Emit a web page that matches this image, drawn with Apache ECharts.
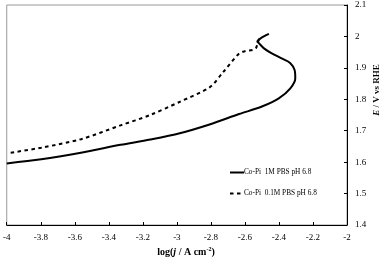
<!DOCTYPE html>
<html>
<head>
<meta charset="utf-8">
<script src="https://cdn.jsdelivr.net/npm/echarts@6/dist/echarts.min.js"></script>
<style>
html,body{margin:0;padding:0;background:#fff;}
#c{width:392px;height:260px;}
</style>
</head>
<body>
<div id="c"></div>
<script>
// x ticks: log(j / A cm^-2)
var xTicks = [-4, -3.8, -3.6, -3.4, -3.2, -3, -2.8, -2.6, -2.4, -2.2, -2];
// y ticks: E / V vs RHE
var yTicks = [1.4, 1.5, 1.6, 1.7, 1.8, 1.9, 2, 2.1];

var seriesNames = ['Co-Pi  1M PBS pH 6.8', 'Co-Pi  0.1M PBS pH 6.8'];

// Co-Pi 1M PBS pH 6.8 (solid)
var logJ_1M = [-4.0, -3.797, -3.564, -3.331, -3.157, -2.983, -2.808, -2.634, -2.5, -2.401, -2.333, -2.304, -2.308, -2.333, -2.384, -2.442, -2.488, -2.517, -2.527, -2.508, -2.459];
var E_1M    = [1.596, 1.609, 1.630, 1.655, 1.672, 1.692, 1.720, 1.753, 1.777, 1.803, 1.835, 1.867, 1.893, 1.915, 1.930, 1.946, 1.962, 1.978, 1.984, 1.994, 2.008];

// Co-Pi 0.1M PBS pH 6.8 (dashed)
var logJ_01M = [-3.977, -3.797, -3.564, -3.331, -3.157, -2.983, -2.808, -2.733, -2.634, -2.6, -2.555, -2.535, -2.525, -2.51];
var E_01M    = [1.630, 1.646, 1.673, 1.717, 1.750, 1.792, 1.838, 1.883, 1.946, 1.953, 1.957, 1.963, 1.980, 2.000];

function zip(a, b) { return a.map(function (v, i) { return [v, b[i]]; }); }
function fmt(ticks) {
  return function (v) {
    var best = ticks[0];
    ticks.forEach(function (t) { if (Math.abs(t - v) < Math.abs(best - v)) best = t; });
    return String(best);
  };
}

var FONT = '"Liberation Serif", "DejaVu Serif", serif';
var chart = echarts.init(document.getElementById('c'), null, {renderer: 'canvas'});
chart.setOption({
  animation: false,
  backgroundColor: '#fff',
  grid: {left: 5, right: 45, top: 5, bottom: 35, show: true, borderColor: '#999', borderWidth: 1, backgroundColor: 'transparent'},
  xAxis: {
    type: 'value',
    min: xTicks[0], max: xTicks[xTicks.length - 1], interval: 0.2,
    axisLine: {show: true, onZero: false, lineStyle: {color: '#000', width: 1}},
    axisTick: {show: true, inside: true, length: 3, lineStyle: {color: '#000'}},
    splitLine: {show: false},
    axisLabel: {color: '#000', fontFamily: FONT, fontSize: 9, margin: 8, formatter: fmt(xTicks), showMinLabel: true, showMaxLabel: true}
  },
  yAxis: {
    type: 'value', position: 'right',
    min: yTicks[0], max: yTicks[yTicks.length - 1], interval: 0.1,
    axisLine: {show: true, onZero: false, lineStyle: {color: '#000', width: 1}},
    axisTick: {show: true, inside: true, length: 3, lineStyle: {color: '#000'}},
    splitLine: {show: false},
    axisLabel: {color: '#000', fontFamily: FONT, fontSize: 9, margin: 8, formatter: fmt(yTicks), showMinLabel: true, showMaxLabel: true}
  },
  legend: {
    orient: 'vertical', left: 224, top: 164, itemGap: 14,
    itemWidth: 14, itemHeight: 8,
    itemStyle: {opacity: 0, borderWidth: 0},
    textStyle: {fontFamily: FONT, fontSize: 7.3, color: '#000', padding: [0, 0, 0, -5]},
    data: seriesNames
  },
  series: [
    {name: seriesNames[0], type: 'line', data: zip(logJ_1M, E_1M), symbol: 'none', smooth: 0.3,
     lineStyle: {color: '#000', width: 2}, itemStyle: {color: '#000'}},
    {name: seriesNames[1], type: 'line', data: zip(logJ_01M, E_01M), symbol: 'none', smooth: 0.3,
     lineStyle: {color: '#000', width: 2, type: [3.5, 3.5]}, itemStyle: {color: '#000'}}
  ],
  graphic: [
    {type: 'text', x: 186, y: 252,
     style: {text: '{b|log(}{bi|j}{b| / A cm}{s|-2}{b|)}', align: 'center', verticalAlign: 'middle',
       rich: {
         b: {fontFamily: FONT, fontWeight: 'bold', fontSize: 10, fill: '#000'},
         bi: {fontFamily: FONT, fontWeight: 'bold', fontStyle: 'italic', fontSize: 10, fill: '#000'},
         s: {fontFamily: FONT, fontWeight: 'bold', fontSize: 6, fill: '#000', verticalAlign: 'top', padding: [0, 0, 6, 0]}
       }}},
    {type: 'text', x: 377, y: 90, rotation: Math.PI / 2,
     style: {text: '{bi|E}{b| / V vs RHE}', align: 'center', verticalAlign: 'middle',
       rich: {
         b: {fontFamily: FONT, fontWeight: 'bold', fontSize: 9, fill: '#000'},
         bi: {fontFamily: FONT, fontWeight: 'bold', fontStyle: 'italic', fontSize: 9, fill: '#000'}
       }}}
  ]
});
</script>
</body>
</html>
